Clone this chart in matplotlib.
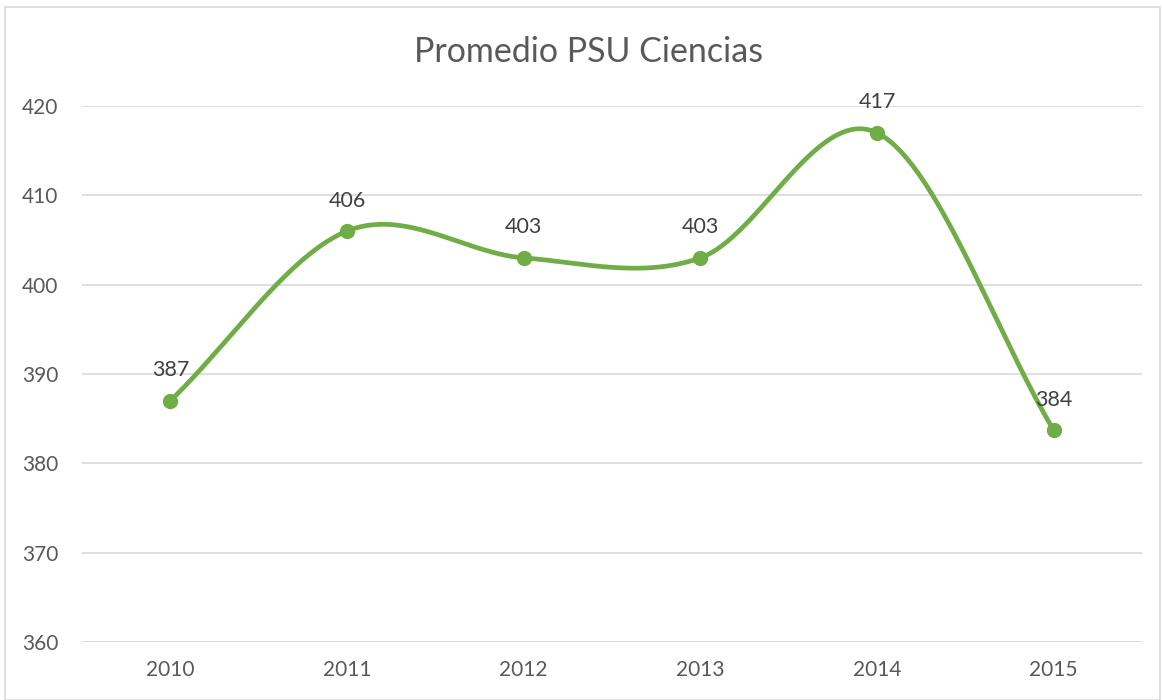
import numpy as np
import matplotlib
matplotlib.use("Agg")
import matplotlib.pyplot as plt
from matplotlib.patches import Rectangle

years = ["2010", "2011", "2012", "2013", "2014", "2015"]
values = [387, 406, 403, 403, 417, 383.7]
title = "Promedio PSU Ciencias"
yticks = [360, 370, 380, 390, 400, 410, 420]

plt.rcParams['font.family'] = ['Lato', 'DejaVu Sans']

fig = plt.figure(figsize=(11.63, 7.0), dpi=100)
fig.patches.append(Rectangle((5/1163, 0), 1155/1163, 1 - 7/700, transform=fig.transFigure,
                             fill=False, edgecolor='#d9d9d9', linewidth=1.2))
ax = fig.add_axes([82/1163, 58/700, 1060/1163, 536/700])

x = np.arange(len(values), dtype=float)
y = np.array(values, dtype=float)

# Catmull-Rom style smoothing (Excel smoothed line)
px = np.concatenate([[2*x[0]-x[1]], x, [2*x[-1]-x[-2]]])
py = np.concatenate([[y[0]], y, [y[-1]]])
sx, sy = [], []
for i in range(1, len(px)-2):
    p0, p1, p2, p3 = (np.array([px[j], py[j]]) for j in (i-1, i, i+1, i+2))
    if i == 1:
        p0 = p1 - (p2 - p1)
    if i == len(px)-3:
        p3 = p2 + (p2 - p1)
    c1 = p1 + (p2 - p0) / 6
    c2 = p2 - (p3 - p1) / 6
    t = np.linspace(0, 1, 60)[:, None]
    b = (1-t)**3*p1 + 3*(1-t)**2*t*c1 + 3*(1-t)*t**2*c2 + t**3*p2
    sx.extend(b[:, 0]); sy.extend(b[:, 1])

color = '#70AD47'
ax.plot(sx, sy, color=color, linewidth=3.4, solid_capstyle='round', zorder=3)
ax.plot(x, y, 'o', color=color, markersize=10, zorder=4)
for xi, yi in zip(x, y):
    ax.annotate(f"{yi:.0f}", (xi, yi), xytext=(0, 22), textcoords='offset points',
                ha='center', va='center', fontsize=15.5, color='#404040', zorder=5)

ax.set_xlim(-0.5, len(values)-0.5)
ax.set_ylim(360, 420)
ax.set_yticks(yticks)
ax.set_xticks(x)
ax.set_xticklabels(years)
ax.tick_params(axis='both', length=0, labelsize=15, labelcolor='#595959')
ax.tick_params(axis='y', pad=17)
ax.tick_params(axis='x', pad=13)
ax.grid(axis='y', color='#d9d9d9', linewidth=1.2)
ax.set_axisbelow(True)
for s in ax.spines.values():
    s.set_visible(False)

fig.text(589/1163, 1 - 52/700, title, ha='center', va='center', fontsize=24.5, color='#595959')

fig.savefig("out.png", dpi=100)
